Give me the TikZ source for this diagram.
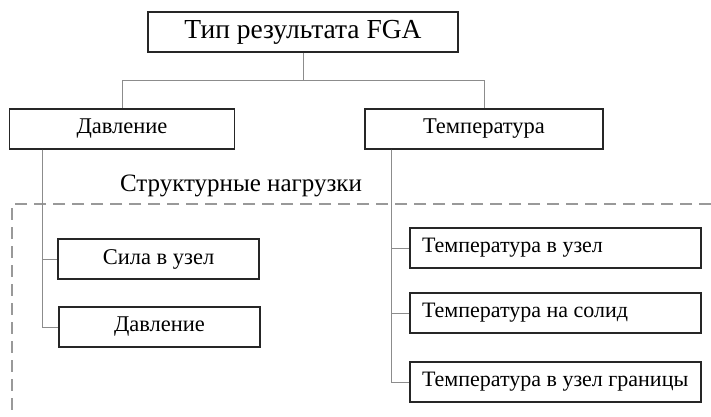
\documentclass[tikz,border=0pt]{standalone}
\usepackage{fontspec}
\setmainfont{Liberation Serif}
\usepackage{tikz}
\usetikzlibrary{positioning,calc}

\tikzset{
  box/.style={draw=black!85,line width=1.3pt,minimum height=40pt,inner sep=0pt,
    font=\fontsize{22.5}{26}\selectfont},
  lbox/.style={box,font=\fontsize{22}{26}\selectfont,text width=267pt,inner xsep=12pt,align=flush left},
  link/.style={draw=black!45,line width=0.9pt},
  frame/.style={draw=black!40,line width=1.1pt,dash pattern=on 12pt off 7pt}
}

\begin{document}
\begin{tikzpicture}[x=1pt,y=-1pt]
\useasboundingbox (0,0) rectangle (711,416);
% top level
\node[box,minimum width=310pt,font=\fontsize{27.5}{30}\selectfont] (fga) at (303,32) {Тип результата FGA};
\node[box,minimum width=225pt] (davl) at (122,129) {Давление};
\node[box,minimum width=238pt] (temp) at (484,129) {Температура};
% structural loads
\node[font=\fontsize{25}{28}\selectfont] (struct) at (241,186) {Структурные нагрузки};
\draw[frame] (711,204) -- (12,204) -- (12,416);
\node[box,minimum width=201pt] (sila) at (158.5,259) {Сила в узел};
\node[box,minimum width=201pt] (davlb) at (159.5,327) {Давление};
\node[lbox] (tuzel) at (555.5,248) {Температура в узел};
\node[lbox] (tsolid) at (555.5,313) {Температура на солид};
\node[lbox] (tgran) at (555.5,382) {Температура в узел границы};
% connectors
\coordinate (bus) at ($(fga.south)+(0,28)$);
\draw[link] (fga.south) -- (bus) -| (davl.north);
\draw[link] (bus) -| (temp.north);
\coordinate (lbus) at ($(davl.south west)+(34,0)$);
\draw[link] (lbus) |- (sila.west);
\draw[link] (lbus) |- (davlb.west);
\coordinate (rbus) at ($(temp.south west)+(27,0)$);
\draw[link] (rbus) |- (tuzel.west);
\draw[link] (rbus) |- (tsolid.west);
\draw[link] (rbus) |- (tgran.west);
\end{tikzpicture}
\end{document}
